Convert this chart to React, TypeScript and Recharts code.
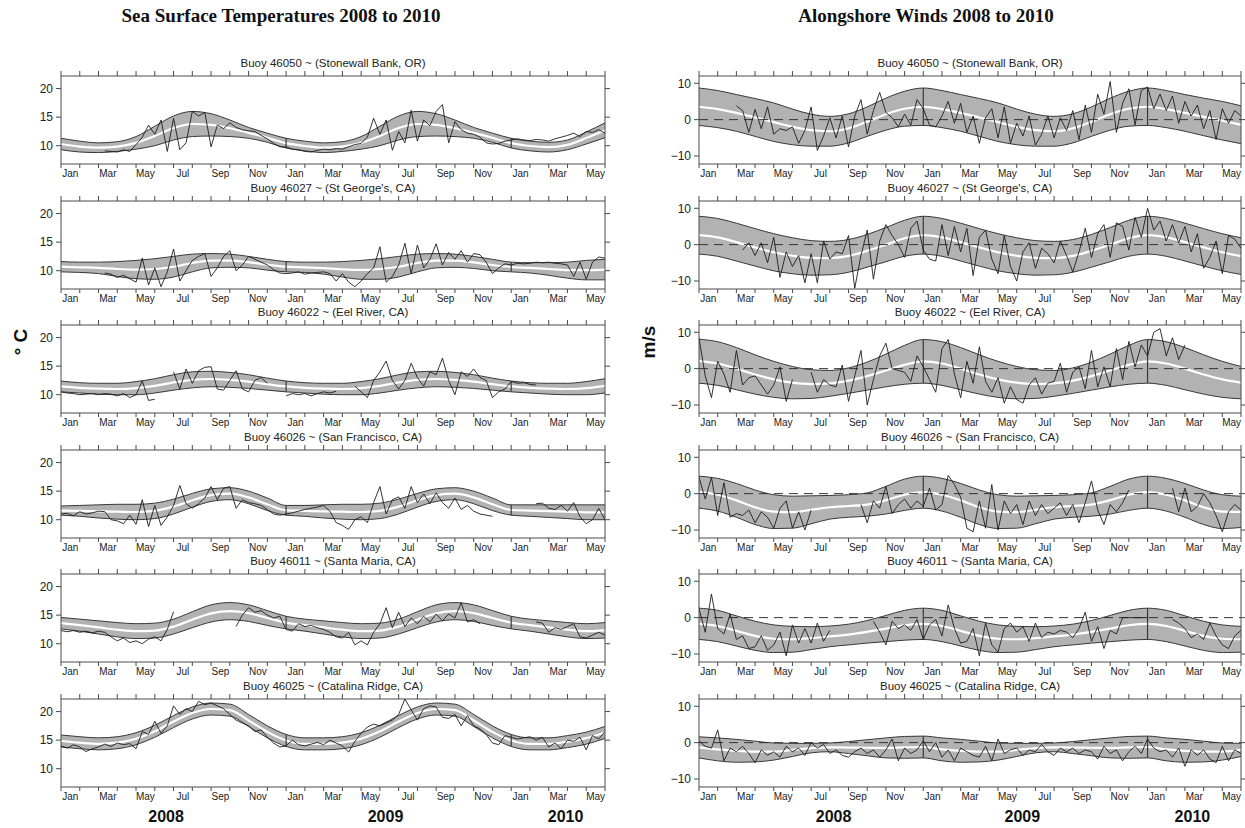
import React from 'react';
import { ComposedChart, Area, Line, XAxis, YAxis, ReferenceLine } from 'recharts';

// x is measured in months from 1 Jan 2008; ticks sit on month boundaries up to 1 Jun 2010
const monthTicks = [0, 1, 2, 3, 4, 5, 6, 7, 8, 9, 10, 11, 12, 13, 14, 15, 16, 17, 18, 19, 20, 21, 22, 23, 24, 25, 26, 27, 28, 29];
const monthNames = ['Jan', 'Feb', 'Mar', 'Apr', 'May', 'Jun', 'Jul', 'Aug', 'Sep', 'Oct', 'Nov', 'Dec'];
const yearLabels = ['2008', '2009', '2010'];
const yearBreaks = [12, 24];

const sstTicks = [10, 15, 20];
const sstDomain = [6.8, 22.2];
const windTicks = [-10, 0, 10];
const windDomain = [-12.2, 12];

// ---- sea surface temperature: envelope (monthly) and series (every ~10 days) ----
const sstStonewallHi = [11.3, 10.8, 10.5, 10.7, 11.6, 13.4, 15.2, 16.0, 15.6, 14.5, 13.2, 12.2, 11.3, 10.8, 10.5, 10.7, 11.6, 13.4, 15.2, 16.0, 15.6, 14.5, 13.2, 12.2, 11.3, 10.8, 10.6, 11.0, 12.4, 14.0];
const sstStonewallLo = [9.3, 8.9, 8.8, 9.0, 9.4, 10.0, 11.0, 11.6, 11.7, 11.6, 11.3, 10.6, 9.6, 9.1, 8.8, 9.0, 9.4, 10.0, 11.0, 11.6, 11.7, 11.6, 11.3, 10.6, 9.6, 9.1, 8.9, 9.3, 10.3, 11.4];
const sstStonewallObs = [
  null, null, null, null, null, null, null, 9.1, 9.0, 8.9, 9.3, 9.0,
  10.2, 11.5, 13.6, 12.0, 14.5, 9.0, 14.8, 9.3, 10.5, 16.0, 15.2, 15.8,
  9.8, 13.6, 13.0, 14.0, 13.2, 12.8, 12.6, 12.5, 11.8, 11.2, 10.4, 9.8,
  9.8, 9.4, 9.3, 9.0, 8.9, 9.2, 9.4, 9.3, 9.5, 9.4, 9.8, 10.2,
  10.4, 11.5, 14.8, 12.0, 14.5, 9.2, 12.5, 10.5, 16.2, 10.8, 14.5, 13.5,
  16.0, 17.2, 10.5, 14.2, 12.8, 12.2, 12.0, 11.5, 10.5, 10.3, 10.4, 10.8,
  11.0, 11.2, 11.0, 10.9, 11.1, 11.0, 10.8, 11.2, 11.5, 11.8, 12.2, 11.6,
  12.5, 12.3, 12.8, 12.2,
];

const sstStGeorgeHi = [11.6, 11.5, 11.5, 11.6, 11.8, 12.1, 12.5, 12.9, 13.0, 12.9, 12.5, 12.0, 11.6, 11.5, 11.5, 11.6, 11.8, 12.1, 12.5, 12.9, 13.0, 12.9, 12.5, 12.0, 11.5, 11.4, 11.4, 11.5, 11.8, 12.0];
const sstStGeorgeLo = [9.8, 9.7, 9.5, 9.0, 8.6, 8.5, 8.9, 9.8, 10.5, 10.6, 10.5, 10.1, 9.8, 9.7, 9.4, 8.9, 8.5, 8.5, 8.9, 9.8, 10.5, 10.6, 10.4, 10.0, 9.8, 9.6, 9.2, 8.7, 8.4, 8.4];
const sstStGeorgeObs = [
  null, null, null, null, null, null, null, 9.6, 9.4, 8.8, 9.2, 8.6,
  8.0, 12.2, 7.5, 10.5, 7.2, 9.8, 13.8, 8.2, 10.0, 11.8, 12.5, 13.0,
  9.0, 10.5, 12.5, 13.5, 10.0, 11.0, 12.5, 12.0, 11.5, 11.0, 10.2, 9.6,
  9.5, 9.6, 9.8, 9.4, 9.6, 9.7, 9.8, 9.5, 8.2, 9.5, 8.0, 7.2,
  8.2, 9.5, 10.5, 14.2, 8.0, 9.0, 11.0, 14.8, 9.5, 14.5, 10.5, 12.0,
  14.7, 11.0, 13.2, 12.0, 13.5, 11.5, 13.0, 12.8, 11.5, 9.5, 10.5, 11.2,
  11.0, 11.3, 11.2, 11.3, 11.5, 11.4, 11.5, 11.3, 11.2, 11.0, 9.0, 11.5,
  8.5, 11.5, 12.4, 12.2,
];

const sstEelRiverHi = [12.4, 12.1, 12.0, 12.0, 12.3, 12.8, 13.5, 14.0, 14.1, 13.9, 13.5, 12.9, 12.4, 12.1, 12.0, 12.0, 12.3, 12.8, 13.5, 14.0, 14.1, 13.9, 13.5, 12.9, 12.4, 12.1, 12.0, 12.0, 12.3, 12.8];
const sstEelRiverLo = [10.5, 10.3, 10.1, 10.0, 10.0, 10.3, 10.8, 11.2, 11.4, 11.3, 11.1, 10.8, 10.5, 10.3, 10.1, 10.0, 10.0, 10.3, 10.8, 11.2, 11.4, 11.3, 11.1, 10.8, 10.5, 10.3, 10.1, 10.0, 10.0, 10.3];
const sstEelRiverObs = [
  10.5, 10.3, 10.2, 10.0, 10.1, 10.2, 10.0, 10.2, 10.1, 9.8, 10.2, 9.5,
  10.0, 12.4, 9.0, 9.2, null, null, 14.0, 11.0, 14.5, 12.0, 14.2, 14.8,
  14.9, 11.0, 10.8, 12.5, 14.2, 11.0, 10.5, 12.5, 13.0, 12.0, null, null,
  9.8, 10.2, 10.0, 10.2, 9.8, 10.2, 10.5, 10.3, 10.6, null, null, 11.5,
  10.5, 9.5, 12.5, 14.0, 15.9, 12.5, 11.0, 12.5, 15.5, 13.0, 11.5, 14.0,
  13.5, 16.4, 12.5, 10.0, 14.0, 13.2, 14.5, 13.0, 12.5, 9.5, 10.5, 11.0,
  12.3, 12.0, 12.1, 11.8, 11.7, null, null, null, null, null, null, null,
  null, null, null, null,
];

const sstSanFranciscoHi = [12.4, 12.5, 12.6, 12.7, 12.7, 12.9, 13.6, 14.6, 15.4, 15.6, 15.0, 13.8, 12.5, 12.5, 12.6, 12.7, 12.7, 12.9, 13.6, 14.6, 15.4, 15.6, 15.0, 13.8, 12.6, 12.6, 12.6, 12.6, 12.6, 12.6];
const sstSanFranciscoLo = [10.8, 10.6, 10.3, 10.1, 10.0, 10.2, 11.0, 12.2, 13.2, 13.5, 12.8, 11.6, 10.8, 10.6, 10.3, 10.1, 10.0, 10.2, 11.0, 12.2, 13.2, 13.5, 12.8, 11.6, 10.8, 10.6, 10.4, 10.2, 10.0, 10.0];
const sstSanFranciscoObs = [
  11.0, 11.1, 10.7, 11.4, 11.0, 11.2, 11.5, 11.4, 10.0, 9.8, 9.3, 10.8,
  9.2, 13.5, 8.8, 12.5, 9.0, 10.5, 12.5, 16.0, 12.8, 12.0, 12.8, 13.8,
  15.8, 13.5, 15.5, 15.8, 12.0, 13.5, 13.0, 12.8, 12.5, 11.8, 11.0, 10.8,
  11.0, 11.2, 11.5, 11.8, 12.0, 12.2, 12.5, 11.5, 9.5, 9.0, 8.3, 10.0,
  10.5, 9.5, 13.0, 15.8, 11.0, 13.5, 14.0, 12.0, 15.8, 13.0, 14.5, 12.8,
  14.7, 13.0, 12.0, 13.8, 11.8, 12.5, 11.5, 11.0, 10.8, 10.6, null, null,
  null, null, null, null, 12.8, 12.9, 12.0, 11.8, 12.5, 11.5, 13.0, 10.5,
  9.3, 10.0, 12.0, 10.0,
];

const sstSantaMariaHi = [14.6, 14.3, 14.0, 13.7, 13.5, 13.6, 14.3, 15.6, 16.8, 17.2, 16.8, 15.8, 14.8, 14.3, 14.0, 13.7, 13.5, 13.6, 14.3, 15.6, 16.8, 17.2, 16.8, 15.8, 14.8, 14.3, 14.0, 13.7, 13.5, 13.7];
const sstSantaMariaLo = [12.6, 12.2, 11.7, 11.2, 10.9, 11.0, 11.7, 12.8, 13.8, 14.2, 13.9, 13.2, 12.6, 12.2, 11.7, 11.2, 10.9, 11.0, 11.7, 12.8, 13.8, 14.2, 13.9, 13.2, 12.6, 12.2, 11.7, 11.2, 10.9, 11.0];
const sstSantaMariaObs = [
  12.3, 12.1, 12.3, 12.0, 12.2, 11.9, 12.2, 12.0, 11.2, 10.5, 11.0, 10.2,
  10.5, 10.0, 10.8, 11.2, 10.5, 12.5, 15.6, null, null, null, null, null,
  null, null, null, null, 13.0, 15.0, 16.3, 15.5, 15.8, 15.0, 14.5, 14.8,
  12.5, 12.2, 13.5, 13.0, 13.2, 12.8, 12.5, 12.0, 11.2, 11.0, 12.0, 9.8,
  10.5, 9.8, 12.0, 13.5, 16.3, 12.8, 15.5, 13.0, 14.5, 13.5, 14.8, 13.8,
  15.2, 14.0, 15.2, 14.5, 17.2, 13.8, 14.2, 13.5, null, null, null, null,
  null, null, null, null, 13.8, 13.6, 12.0, 12.8, 12.5, 13.0, 13.5, 11.2,
  11.0, 11.5, 12.0, 11.5,
];

const sstCatalinaHi = [15.9, 15.6, 15.4, 15.6, 16.3, 17.6, 19.3, 20.8, 21.5, 21.3, 19.5, 17.5, 16.0, 15.4, 15.4, 15.6, 16.3, 17.6, 19.3, 20.8, 21.5, 21.3, 19.5, 17.5, 16.0, 15.4, 15.4, 15.8, 16.4, 17.4];
const sstCatalinaLo = [13.8, 13.5, 13.3, 13.5, 14.2, 15.5, 17.2, 18.7, 19.4, 19.2, 17.4, 15.4, 13.9, 13.3, 13.3, 13.5, 14.2, 15.5, 17.2, 18.7, 19.4, 19.2, 17.4, 15.4, 13.9, 13.3, 13.3, 13.7, 14.3, 15.3];
const sstCatalinaObs = [
  14.0, 13.6, 14.2, 13.8, 13.0, 13.5, 13.8, 14.3, 13.9, 14.5, 14.2, 14.4,
  13.5, 16.5, 16.0, 18.3, 16.2, 17.5, 21.0, 19.5, 20.5, 20.0, 21.8, 21.2,
  21.5, 21.0, 20.5, 19.5, 18.5, 18.0, 17.5, 16.5, 16.8, 15.5, 14.5, 13.8,
  14.0, 15.0, 14.2, 14.0, 14.3, 14.6, 14.2, 15.0, 14.5, 14.0, 12.9, 14.8,
  16.2, 17.3, 17.8, 17.5, 18.0, 18.5, 19.5, 22.2, 20.3, 18.5, 20.5, 21.0,
  20.8, 19.0, 18.8, 19.5, 17.5, 19.3, 17.5, 17.0, 16.0, 14.5, 14.2, 15.8,
  15.5, 15.2, 15.4, 15.6, 15.0, 15.5, 13.8, 14.5, 13.5, 15.0, 14.8, 15.5,
  13.3, 15.8, 15.2, 16.5,
];

// ---- alongshore wind: envelope (monthly) and series (every ~10 days) ----
const windStonewallHi = [8.7, 8.0, 6.9, 5.8, 4.6, 2.9, 1.5, 0.9, 1.6, 3.5, 5.9, 7.8, 8.7, 8.0, 6.9, 5.8, 4.6, 2.9, 1.5, 0.9, 1.6, 3.5, 5.9, 7.8, 8.7, 8.0, 6.9, 5.9, 5.0, 3.8];
const windStonewallLo = [-1.6, -2.2, -3.2, -4.6, -6.0, -6.9, -7.3, -7.3, -6.4, -4.6, -2.9, -1.8, -1.6, -2.2, -3.2, -4.6, -6.0, -6.9, -7.3, -7.3, -6.4, -4.6, -2.9, -1.8, -1.6, -2.2, -3.2, -4.4, -5.6, -6.6];
const windStonewallObs = [
  null, null, null, null, null, null, 3.8, 2.5, -3.5, 2.8, -2.5, 3.5,
  -4.0, -2.5, -3.0, -2.0, -6.5, -3.0, 3.5, -8.5, -4.5, 0.5, -5.0, 1.0,
  -7.5, 1.0, 5.5, -4.0, 2.5, 7.5, 2.0, 0.5, -2.0, 1.5, -1.5, 5.5,
  3.0, -1.5, -2.0, 1.0, 5.0, -1.0, 4.5, -3.5, 1.0, -6.5, 0.5, 3.0,
  -5.0, 3.5, -6.5, -1.0, -4.5, 1.0, -7.0, -4.0, 1.0, -5.0, 0.5, -3.0,
  2.5, -5.5, 4.0, -3.5, 7.0, 1.5, 10.5, -3.5, 4.5, 8.5, -1.5, 8.0,
  9.0, 3.0, 7.0, 2.5, 6.5, -1.0, 5.0, 1.0, 4.0, -2.5, 2.5, -5.5,
  3.0, -1.0, 2.5, 1.0,
];

const windStGeorgeHi = [7.8, 7.2, 5.9, 4.4, 3.0, 1.9, 1.1, 0.9, 1.4, 2.8, 4.7, 6.7, 7.8, 7.2, 5.9, 4.4, 3.0, 1.9, 1.1, 0.9, 1.4, 2.8, 4.7, 6.7, 7.8, 7.2, 5.9, 4.4, 3.0, 1.9];
const windStGeorgeLo = [-2.6, -3.2, -4.5, -5.9, -7.2, -8.0, -8.4, -8.3, -7.6, -6.2, -4.7, -3.2, -2.6, -3.2, -4.5, -5.9, -7.2, -8.0, -8.4, -8.3, -7.6, -6.2, -4.7, -3.2, -2.6, -3.2, -4.5, -5.9, -7.2, -8.2];
const windStGeorgeObs = [
  null, null, null, null, null, null, null, -1.5, 0.5, -3.0, 0.5, -5.0,
  2.0, -9.0, -2.0, -6.0, -3.0, -10.5, -2.5, -10.5, 1.0, -4.0, -2.0, -2.5,
  2.5, -12.0, -3.0, 4.0, -9.5, 1.0, 5.5, 2.5, 0.0, -3.5, 4.5, 6.5,
  -1.5, -4.0, -4.5, 5.5, -3.0, 5.0, -2.0, 4.5, -8.5, 2.0, 4.0, -4.0,
  -8.0, 2.5, -6.0, -10.0, -2.0, 0.5, -6.5, -1.0, -2.5, -5.0, 1.0, -3.0,
  -7.5, -2.0, 4.5, -3.5, 3.0, 5.5, -3.5, 6.0, 5.0, -1.5, 7.5, 2.0,
  10.0, 4.0, 6.5, 1.0, 5.5, 0.5, 5.0, -2.0, 3.0, -6.5, -3.5, 1.0,
  -8.0, 2.5, 1.5, -1.0,
];

const windEelRiverHi = [8.1, 7.4, 5.8, 3.8, 2.0, 0.6, -0.3, -0.5, 0.2, 1.8, 4.0, 6.4, 8.0, 7.4, 5.8, 3.8, 2.0, 0.6, -0.3, -0.5, 0.2, 1.8, 4.0, 6.4, 8.0, 7.4, 5.8, 3.8, 2.0, 0.6];
const windEelRiverLo = [-4.0, -4.6, -5.8, -7.0, -7.9, -8.3, -8.2, -7.6, -6.8, -5.9, -5.0, -4.3, -4.0, -4.6, -5.8, -7.0, -7.9, -8.3, -8.2, -7.6, -6.8, -5.9, -5.0, -4.3, -4.0, -4.6, -5.8, -7.0, -7.9, -8.3];
const windEelRiverObs = [
  8.5, -2.0, -8.0, 2.0, -1.5, -6.5, 5.0, -4.5, -2.5, -2.0, -4.5, -7.0,
  -4.5, 0.5, -9.0, -3.0, null, null, -1.0, -6.5, -3.0, -4.5, -5.0, 1.0,
  -9.0, -2.0, 5.0, -10.0, -3.0, 3.5, 7.0, 0.0, -0.5, -1.0, -3.5, 3.5,
  0.5, -3.0, -6.5, 5.5, 8.0, -1.5, -8.0, 2.0, -4.0, 6.0, -3.5, -6.5,
  -2.5, -9.5, -5.0, -8.5, -9.5, -4.5, -2.5, -7.0, -4.0, -3.5, 1.5, -6.5,
  -1.0, 0.5, -5.5, 5.0, -5.0, 0.5, -5.0, 5.5, -3.0, 7.5, 0.5, 6.5,
  3.5, 10.0, 11.0, 3.5, 8.5, 2.5, 6.5, null, null, null, null, null,
  null, null, null, null,
];

const windSanFranciscoHi = [4.8, 4.2, 2.8, 1.0, -0.3, -0.7, -0.6, -0.5, -0.3, 0.2, 2.0, 4.0, 4.8, 4.2, 2.8, 1.0, -0.3, -0.7, -0.6, -0.5, -0.3, 0.2, 2.0, 4.0, 4.8, 4.2, 2.8, 1.0, -0.3, -0.7];
const windSanFranciscoLo = [-4.0, -4.8, -6.5, -8.5, -9.6, -9.5, -8.3, -7.0, -6.5, -6.2, -5.6, -4.6, -4.0, -4.8, -6.5, -8.5, -9.6, -9.5, -8.3, -7.0, -6.5, -6.2, -5.6, -4.6, -4.0, -4.8, -6.5, -8.5, -9.6, -9.3];
const windSanFranciscoObs = [
  4.5, -1.5, 4.5, -6.0, 3.0, -6.5, -5.5, -6.0, -4.5, -8.0, -5.0, -6.5,
  -9.5, -4.0, -2.0, -9.5, -5.0, -10.0, -4.5, null, null, null, null, null,
  null, null, -3.0, -8.0, -2.0, -4.0, 2.0, -5.5, -3.0, -1.5, -4.0, -2.0,
  -3.5, 1.5, -4.5, -3.0, 5.0, 2.5, -1.0, -9.5, -10.5, -2.0, -9.5, 2.5,
  -10.0, -2.0, -5.5, -3.0, -8.5, -2.0, -6.0, -3.0, -5.5, -4.0, -2.5, -6.0,
  -3.0, -8.0, -2.5, 3.5, -4.5, -8.5, -3.0, -5.0, -2.5, 1.0, null, null,
  null, null, null, null, 1.5, -5.0, 1.5, -5.0, -3.5, 0.0, -2.5, -6.0,
  -10.5, -5.0, -3.0, -4.5,
];

const windSantaMariaHi = [2.6, 2.0, 0.5, -1.0, -2.0, -2.4, -2.5, -2.3, -1.8, -0.8, 0.6, 2.0, 2.6, 2.0, 0.5, -1.0, -2.0, -2.4, -2.5, -2.3, -1.8, -0.8, 0.6, 2.0, 2.6, 2.0, 0.5, -1.0, -2.0, -2.4];
const windSantaMariaLo = [-6.0, -6.6, -7.8, -9.0, -9.6, -9.5, -8.8, -8.0, -7.5, -7.0, -6.6, -6.2, -6.0, -6.6, -7.8, -9.0, -9.6, -9.5, -8.8, -8.0, -7.5, -7.0, -6.6, -6.2, -6.0, -6.6, -7.8, -9.0, -9.6, -9.5];
const windSantaMariaObs = [
  2.5, -4.0, 6.5, -3.0, -4.5, 1.0, -6.0, -5.0, -8.5, -8.0, -5.0, -9.0,
  -7.5, -4.0, -10.5, -2.0, -7.0, -3.0, -7.0, -1.5, -6.5, -3.5, null, null,
  null, null, null, null, -1.0, -4.0, -7.5, -1.0, -3.0, -2.0, -3.5, -0.5,
  -6.0, -2.0, -0.5, -5.0, 3.5, -3.0, -7.0, -6.5, -3.0, -10.5, -1.5, -7.5,
  -9.5, -3.0, -1.5, -4.0, -2.5, -6.5, -1.5, -5.5, -4.0, -4.5, -3.5, -4.0,
  -5.5, -3.0, 1.5, -6.5, -2.5, -8.5, -3.5, -4.5, 0.0, 0.0, 0.0, 0.0,
  0.0, null, null, null, -0.5, -1.5, -3.0, -5.5, -4.5, -6.0, -1.5, -5.0,
  -7.5, -8.5, -5.0, -3.5,
];

const windCatalinaHi = [1.6, 1.3, 0.9, 0.4, -0.1, -0.2, -0.2, -0.1, 0.3, 0.8, 1.3, 1.7, 1.8, 1.3, 0.9, 0.4, -0.1, -0.2, -0.2, -0.1, 0.3, 0.8, 1.3, 1.7, 1.8, 1.3, 0.9, 0.4, -0.1, -0.2];
const windCatalinaLo = [-4.2, -5.0, -5.4, -5.3, -4.8, -3.8, -2.8, -2.5, -3.0, -3.6, -4.2, -4.3, -4.2, -5.0, -5.4, -5.3, -4.8, -3.8, -2.8, -2.5, -3.0, -3.6, -4.2, -4.3, -4.2, -5.0, -5.4, -5.3, -4.8, -3.8];
const windCatalinaObs = [
  0.5, -1.0, -1.5, 3.5, -5.0, -1.5, -2.5, -1.0, -3.0, -5.5, -2.0, -3.5,
  -2.5, -4.0, -1.0, -2.5, -1.5, -3.5, 0.0, -1.5, -0.5, -3.0, -2.0, -3.5,
  -4.0, -2.5, -1.5, -3.0, -2.0, -4.0, -2.0, 1.0, -5.0, -1.5, -3.0, -2.0,
  0.5, -2.5, 0.0, -4.0, -2.0, -5.0, -1.5, -2.5, -3.5, -4.0, -1.0, -5.0,
  1.0, -3.0, -2.0, -1.5, -3.5, -2.0, -2.5, -0.5, -2.5, -3.5, -1.5, -2.5,
  -1.5, -3.0, -2.0, -2.5, -4.5, -1.0, -3.0, -2.0, -5.0, -2.5, -1.0, -3.0,
  1.0, -1.5, -2.5, -2.0, -4.0, -1.5, -6.5, -2.0, -3.5, -2.0, -4.5, -5.5,
  -1.0, -5.0, -2.0, -3.0,
];

type PanelSpec = { title: string; hi: number[]; lo: number[]; obs: (number | null)[] };

const sstPanels: PanelSpec[] = [
  { title: 'Buoy 46050 ~ (Stonewall Bank, OR)', hi: sstStonewallHi, lo: sstStonewallLo, obs: sstStonewallObs },
  { title: "Buoy 46027 ~ (St George's, CA)", hi: sstStGeorgeHi, lo: sstStGeorgeLo, obs: sstStGeorgeObs },
  { title: 'Buoy 46022 ~ (Eel River, CA)', hi: sstEelRiverHi, lo: sstEelRiverLo, obs: sstEelRiverObs },
  { title: 'Buoy 46026 ~ (San Francisco, CA)', hi: sstSanFranciscoHi, lo: sstSanFranciscoLo, obs: sstSanFranciscoObs },
  { title: 'Buoy 46011 ~ (Santa Maria, CA)', hi: sstSantaMariaHi, lo: sstSantaMariaLo, obs: sstSantaMariaObs },
  { title: 'Buoy 46025 ~ (Catalina Ridge, CA)', hi: sstCatalinaHi, lo: sstCatalinaLo, obs: sstCatalinaObs },
];

const windPanels: PanelSpec[] = [
  { title: 'Buoy 46050 ~ (Stonewall Bank, OR)', hi: windStonewallHi, lo: windStonewallLo, obs: windStonewallObs },
  { title: "Buoy 46027 ~ (St George's, CA)", hi: windStGeorgeHi, lo: windStGeorgeLo, obs: windStGeorgeObs },
  { title: 'Buoy 46022 ~ (Eel River, CA)', hi: windEelRiverHi, lo: windEelRiverLo, obs: windEelRiverObs },
  { title: 'Buoy 46026 ~ (San Francisco, CA)', hi: windSanFranciscoHi, lo: windSanFranciscoLo, obs: windSanFranciscoObs },
  { title: 'Buoy 46011 ~ (Santa Maria, CA)', hi: windSantaMariaHi, lo: windSantaMariaLo, obs: windSantaMariaObs },
  { title: 'Buoy 46025 ~ (Catalina Ridge, CA)', hi: windCatalinaHi, lo: windCatalinaLo, obs: windCatalinaObs },
];

// layout
const SANS = '"Liberation Sans", Arial, Helvetica, sans-serif';
const SERIF = '"Liberation Serif", "DejaVu Serif", serif';
const PLOT_H = 88;
const FIRST_TOP = 76;
const ROW_STEP = 124.6;
const AX_L = 36;
const AX_R = 6;
const AX_T = 6;
const AX_B = 16;
const FRAME = '#4a4a4a';
const BAND = '#b2b2b2';
const EDGE = '#383838';

const fmtTick = (v: number) => (v < 0 ? `\u2212${-v}` : `${v}`);
const blank = () => '';

const MonthTick = (props: any) => {
  const { x, y, payload, half } = props;
  const m = payload.value;
  if (m % 2 !== 0 || m >= 29) return <g />;
  return (
    <text x={x + half} y={y + 9} textAnchor="middle" fontSize={10} fill="#222" fontFamily={SANS}>
      {monthNames[m % 12]}
    </text>
  );
};

function Panel({ spec, left, top, width, wind }: { spec: PanelSpec; left: number; top: number; width: number; wind: boolean }) {
  const bandData = spec.hi.map((h, i) => ({ t: i, hi: h, lo: spec.lo[i], mid: (h + spec.lo[i]) / 2, band: [spec.lo[i], h] }));
  const obsData = spec.obs.map((v, i) => ({ t: i / 3, v }));
  const domain = wind ? windDomain : sstDomain;
  const ticks = wind ? windTicks : sstTicks;

  return (
    <div style={{ position: 'absolute', left: left - AX_L, top: top - AX_T }}>
      <ComposedChart width={width + AX_L + AX_R} height={PLOT_H + AX_T + AX_B} margin={{ top: 0, right: 0, bottom: 0, left: 0 }}>
        <XAxis xAxisId="b" type="number" dataKey="t" domain={[0, 29]} ticks={monthTicks} interval={0} allowDataOverflow
          height={AX_B} tickSize={4} tickMargin={0} stroke={FRAME} tick={<MonthTick half={width / 58} />} />
        <XAxis xAxisId="top" orientation="top" type="number" dataKey="t" domain={[0, 29]} ticks={monthTicks} interval={0} allowDataOverflow
          height={AX_T} tickSize={5} stroke={FRAME} tickFormatter={blank} />
        <YAxis yAxisId="l" type="number" domain={domain} ticks={ticks} interval={0} allowDataOverflow width={AX_L}
          tickSize={5} tickMargin={3} stroke={FRAME} tick={{ fontSize: 12, fill: '#222', fontFamily: SANS }} tickFormatter={fmtTick} />
        <YAxis yAxisId="r" orientation="right" type="number" domain={domain} ticks={ticks} interval={0} allowDataOverflow width={AX_R}
          tickSize={5} stroke={FRAME} tickFormatter={blank} />

        <Area xAxisId="b" yAxisId="l" data={bandData} dataKey="band" type="monotone" stroke="none" fill={BAND} fillOpacity={1} isAnimationActive={false} />
        <Line xAxisId="b" yAxisId="l" data={bandData} dataKey="hi" type="monotone" stroke={EDGE} strokeWidth={1} dot={false} isAnimationActive={false} />
        <Line xAxisId="b" yAxisId="l" data={bandData} dataKey="lo" type="monotone" stroke={EDGE} strokeWidth={1} dot={false} isAnimationActive={false} />
        <Line xAxisId="b" yAxisId="l" data={bandData} dataKey="mid" type="monotone" stroke="#ffffff" strokeWidth={2.2} dot={false} isAnimationActive={false} />
        {wind && <ReferenceLine xAxisId="b" yAxisId="l" y={0} stroke="#333" strokeDasharray="9 6" strokeWidth={1} />}
        {yearBreaks.map((t) => (
          <ReferenceLine key={t} xAxisId="b" yAxisId="l" segment={[{ x: t, y: spec.lo[t] }, { x: t, y: spec.hi[t] }]} stroke={EDGE} strokeWidth={1.2} />
        ))}
        <Line xAxisId="b" yAxisId="l" data={obsData} dataKey="v" type="linear" stroke="#1c1c1c" strokeWidth={0.9} dot={false} connectNulls={false} isAnimationActive={false} />
      </ComposedChart>
    </div>
  );
}

export default function App() {
  const rows = [0, 1, 2, 3, 4, 5];
  const cols = [
    { x: 61, w: 544, panels: sstPanels, wind: false, title: 'Sea Surface Temperatures 2008 to 2010', titleX: 281, years: [5.6, 17.3, 26.9] },
    { x: 699, w: 542, panels: windPanels, wind: true, title: 'Alongshore Winds 2008 to 2010', titleX: 926, years: [7.2, 17.3, 26.4] },
  ];
  const bottomY = FIRST_TOP + 5 * ROW_STEP + PLOT_H;

  return (
    <div style={{ position: 'absolute', left: 0, top: 0, width: 1245, height: 828, background: '#fff', fontFamily: SANS, overflow: 'hidden' }}>
      {cols.map((c) =>
        rows.map((r) => (
          <Panel key={`${c.x}-${r}`} spec={c.panels[r]} left={c.x} top={FIRST_TOP + r * ROW_STEP} width={c.w} wind={c.wind} />
        ))
      )}
      <svg width={1245} height={828} style={{ position: 'absolute', left: 0, top: 0, pointerEvents: 'none' }}>
        {cols.map((c) => (
          <g key={c.title}>
            <text x={c.titleX} y={22} textAnchor="middle" fontFamily={SERIF} fontWeight="bold" fontSize={19} fill="#111">
              {c.title}
            </text>
            {rows.map((r) => (
              <text key={r} x={c.x + c.w / 2} y={FIRST_TOP + r * ROW_STEP - 9} textAnchor="middle" fontSize={11.5} fill="#222" fontFamily={SANS}>
                {c.panels[r].title}
              </text>
            ))}
            {yearLabels.map((yl, i) => (
              <text key={yl} x={c.x + (c.years[i] * c.w) / 29} y={bottomY + 35} textAnchor="middle" fontSize={16} fontWeight="bold" fill="#111" fontFamily={SANS}>
                {yl}
              </text>
            ))}
          </g>
        ))}
        <text transform="translate(27,342) rotate(-90)" textAnchor="middle" fontSize={19} fontWeight="bold" fill="#111" fontFamily={SANS}>
          ° C
        </text>
        <text transform="translate(655,342) rotate(-90)" textAnchor="middle" fontSize={19} fontWeight="bold" fill="#111" fontFamily={SANS}>
          m/s
        </text>
      </svg>
    </div>
  );
}
